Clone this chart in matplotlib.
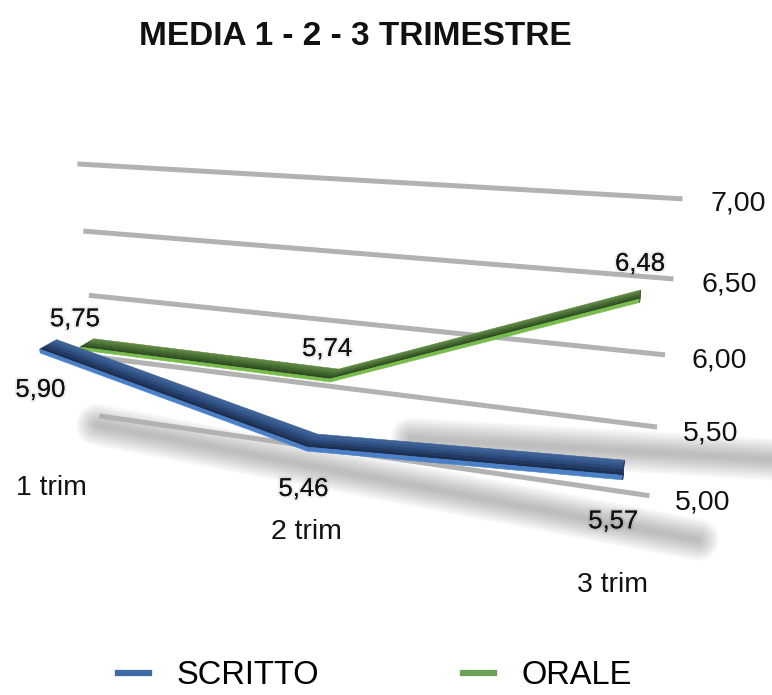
import numpy as np
import matplotlib
matplotlib.use("Agg")
import matplotlib.pyplot as plt
import matplotlib.patheffects as pe
from matplotlib.lines import Line2D
from mpl_toolkits.mplot3d import proj3d
from mpl_toolkits.mplot3d.art3d import Poly3DCollection

plt.rcParams['font.family'] = ['Liberation Sans', 'DejaVu Sans']

# ---- data -------------------------------------------------------------
title = 'MEDIA 1 - 2 - 3 TRIMESTRE'
categories = ['1 trim', '2 trim', '3 trim']
series_names = ['SCRITTO', 'ORALE']
scritto = [5.90, 5.46, 5.57]
orale = [5.75, 5.74, 6.48]
value_ticks = [5.0, 5.5, 6.0, 6.5, 7.0]


def fmt(v):
    return f'{v:.2f}'.replace('.', ',')


# ---- figure / 3d scene --------------------------------------------------
W, H = 772, 695
fig = plt.figure(figsize=(W / 100, H / 100), dpi=100)

S = 690.0              # side of the square 3d axes, px
cx, cy = 345.0, 393.0  # where the scene centre lands, px from left / bottom
frac = 0.095 / 0.185
ax = fig.add_axes([(cx - frac * S) / W, (cy - frac * S) / H, S / W, S / H],
                  projection='3d', proj_type='persp', focal_length=0.2525,
                  computed_zorder=False)
ax.set_xlim(-0.124, 2.276)
ax.set_ylim(0.607, 1.207)
ax.set_zlim(4.83, 7.83)
ax.set_box_aspect((0.7728, 0.6, 0.5076), zoom=1.4606)
ax.view_init(elev=17.8, azim=-72.4)
ax.set_xticks([])
ax.set_yticks([])
ax.set_zticks([])
ax.set_axis_off()
ax.patch.set_alpha(0)

xs = np.arange(len(categories))
wall_y = 1.0
wall_x = (xs[0] - 0.087, xs[-1] + 0.099)

# depth slot, ribbon depth and thickness of each series
layout = {
    'SCRITTO': dict(y0=0.851, depth=0.033, thick=0.028,
                    top=['#1b2f53', '#213b66', '#2a4a7b', '#34588d', '#3d6298'],
                    front='#4a80c8', cap='#23406e', z=4),
    'ORALE': dict(y0=0.929, depth=0.031, thick=0.022,
                  top=['#2c4a1f', '#375b27', '#44692f', '#517a38', '#5c8641'],
                  front='#78bd4c', cap='#3f6a2c', z=3),
}


def label3d(x, y, z, s, **kw):
    """Place a flat text at the projected position of a 3d point."""
    px, py, _ = proj3d.proj_transform(x, y, z, ax.get_proj())
    return ax.text2D(px, py, s, transform=ax.transData, **kw)


# ---- soft floor shadows --------------------------------------------------
def soft_shadow(x, y, z):
    for w in np.linspace(30, 3, 12):
        ax.plot(x, y, z, color='#606060', alpha=0.038, lw=w,
                solid_capstyle='round', zorder=0.5, clip_on=False)


soft_shadow([xs[0] - 0.05, xs[-1] + 0.25], [0.975, 0.92], [value_ticks[0]] * 2)
soft_shadow([xs[1] + 0.2, xs[-1] + 0.6], [1.06, 1.14], [value_ticks[0]] * 2)

# ---- back-wall gridlines and value labels --------------------------------
for v in value_ticks:
    ax.plot(wall_x, [wall_y, wall_y], [v, v], color='#b2b2b2', lw=3.6,
            solid_capstyle='butt', zorder=1, clip_on=False)
    label3d(wall_x[1] + 0.085, wall_y, v - 0.02, fmt(v), ha='left', va='center',
            fontsize=20.5, color='#111111', zorder=10)


# ---- 3d ribbons ---------------------------------------------------------
def ribbon(vals, y0, depth, thick, top, front, cap, z):
    polys, cols = [], []
    n = len(top)
    for i in range(len(vals) - 1):
        x0, x1 = xs[i], xs[i + 1]
        z0, z1 = vals[i], vals[i + 1]
        polys.append([(x0, y0, z0), (x1, y0, z1), (x1, y0, z1 - thick), (x0, y0, z0 - thick)])
        cols.append(front)
        for k in range(n):
            ya = y0 + depth * k / n
            yb = y0 + depth * (k + 1) / n
            polys.append([(x0, ya, z0), (x1, ya, z1), (x1, yb, z1), (x0, yb, z0)])
            cols.append(top[k])
    xe, ze = xs[-1], vals[-1]
    polys.append([(xe, y0, ze), (xe, y0 + depth, ze), (xe, y0 + depth, ze - thick), (xe, y0, ze - thick)])
    cols.append(cap)
    pc = Poly3DCollection(polys, facecolors=cols, edgecolors=cols, linewidths=0.4)
    pc.set_zorder(z)
    pc.set_clip_on(False)
    ax.add_collection3d(pc)


for name, vals in zip(series_names, [scritto, orale]):
    ribbon(vals, **layout[name])

# ---- data labels ---------------------------------------------------------
halo = [pe.withStroke(linewidth=3, foreground=(0, 0, 0, 0.07))]
for i, v in enumerate(scritto):
    label3d(xs[i] - 0.015, layout['SCRITTO']['y0'], v - 0.30, fmt(v), ha='center',
            va='center', fontsize=18.5, color='#111111', zorder=10, path_effects=halo)
for i, v in enumerate(orale):
    label3d(xs[i] - 0.01, layout['ORALE']['y0'], v + 0.21, fmt(v), ha='center',
            va='center', fontsize=18.5, color='#111111', zorder=10, path_effects=halo)

# ---- category labels along the front edge -------------------------------
for i, c in enumerate(categories):
    label3d(xs[i], 0.845, 4.87, c, ha='center', va='center', fontsize=20.5,
            color='#111111', zorder=10)

# ---- title and legend -----------------------------------------------------
fig.text(355 / W, 1 - 45 / H, title, ha='center', va='baseline',
         fontsize=24, fontweight='bold', color='#111111')

handles = [Line2D([], [], color='#3f6ba6', lw=4.5),
           Line2D([], [], color='#6aa158', lw=4.5)]
fig.legend(handles, series_names, loc='center', bbox_to_anchor=(375 / W, 1 - 676 / H),
           ncol=2, frameon=False, fontsize=23.5, handlelength=0.95,
           handletextpad=0.85, columnspacing=4.4, borderpad=0, borderaxespad=0)

fig.savefig('out.png', dpi=100)
